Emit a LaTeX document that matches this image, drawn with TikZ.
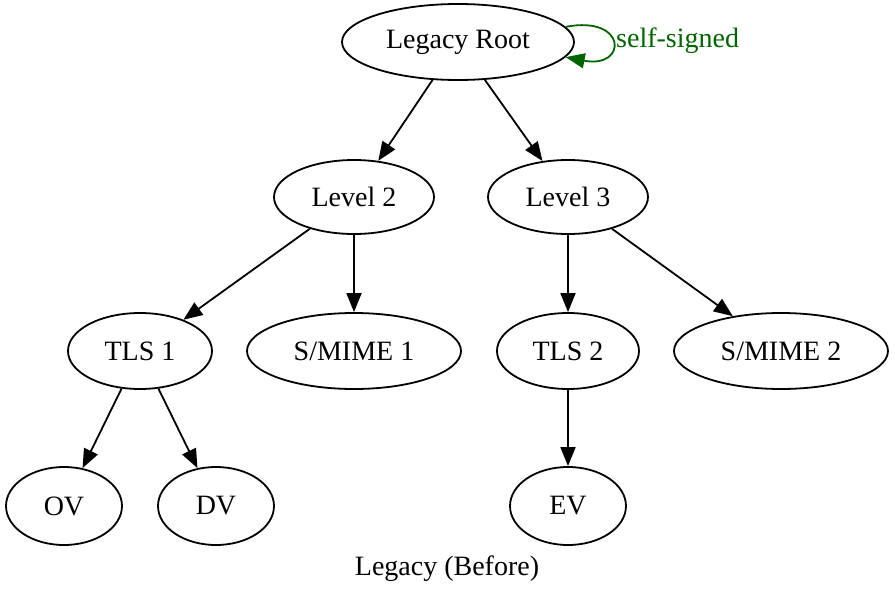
\documentclass[tikz,border=0pt]{standalone}
\usepackage{fontspec}
\setmainfont{Liberation Serif}
\usetikzlibrary{shapes.geometric,arrows.meta}
\definecolor{dgreen}{HTML}{006400}
\tikzset{
  gnode/.style={ellipse,draw=black,line width=1.8pt,inner sep=0pt,minimum height=76pt,font=\fontsize{28}{34}\selectfont},
  gedge/.style={line width=1.8pt,-{Triangle[length=19pt,width=15pt]}},
}
\begin{document}
\begin{tikzpicture}[x=1pt,y=-1pt]
\useasboundingbox (0,0) rectangle (895,589);
\node[gnode,minimum width=232pt] (root) at (458,42) {Legacy Root};
\node[gnode,minimum width=160pt,minimum height=74pt] (l2) at (354,197) {Level 2};
\node[gnode,minimum width=160pt,minimum height=74pt] (l3) at (568,197) {Level 3};
\node[gnode,minimum width=144pt] (tls1) at (140,351) {TLS 1};
\node[gnode,minimum width=214pt] (sm1) at (354,351) {S/MIME 1};
\node[gnode,minimum width=142pt] (tls2) at (568,351) {TLS 2};
\node[gnode,minimum width=214pt] (sm2) at (781,351) {S/MIME 2};
\node[gnode,minimum width=116pt,minimum height=78pt] (ov) at (64,506) {OV};
\node[gnode,minimum width=116pt,minimum height=78pt] (dv) at (216,506) {DV};
\node[gnode,minimum width=116pt,minimum height=78pt] (ev) at (568,506) {EV};
\node[font=\fontsize{28}{34}\selectfont] (cap) at (447,569) {Legacy (Before)};
\draw[gedge,draw=dgreen,-{Triangle[length=19pt,width=15pt,fill=dgreen]}] (root.8) .. controls +(62,-12) and +(62,12) .. (root.-8);
\node[font=\fontsize{28}{34}\selectfont,text=dgreen,anchor=west,inner sep=0pt] (lbl) at (616,41) {self-signed};
\draw[gedge] (root) -- (l2);
\draw[gedge] (root) -- (l3);
\draw[gedge] (l2) -- (tls1);
\draw[gedge] (l2) -- (sm1);
\draw[gedge] (l3) -- (tls2);
\draw[gedge] (l3) -- (sm2);
\draw[gedge] (tls1) -- (ov);
\draw[gedge] (tls1) -- (dv);
\draw[gedge] (tls2) -- (ev);
\end{tikzpicture}
\end{document}
